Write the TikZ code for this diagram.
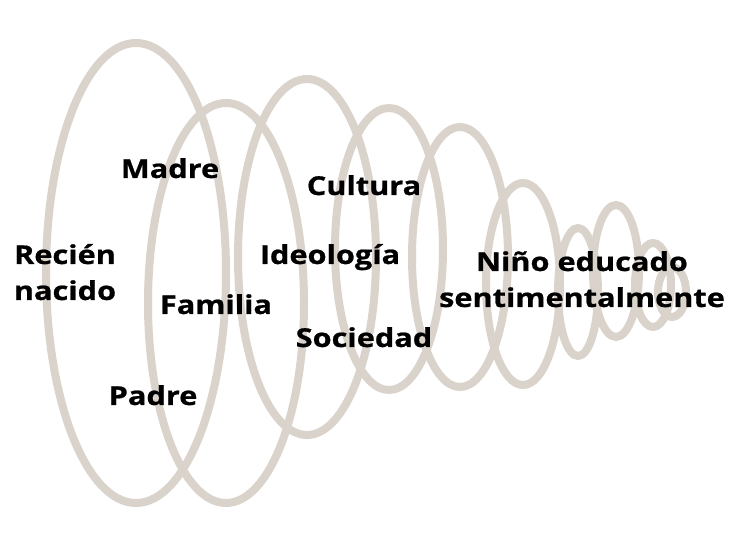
\documentclass[tikz,border=0pt]{standalone}
\usepackage{fontspec}
\newfontfamily\lblfont{Open Sans}[FakeStretch=1.18,BoldFeatures={FakeBold=0.8}]
\definecolor{ringcol}{RGB}{218,211,203}
\begin{document}
\begin{tikzpicture}[x=1pt,y=-1pt,
  ring/.style={draw=ringcol, line width=8pt},
  lbl/.style={inner sep=0pt, anchor=base, align=center,
    font=\lblfont\bfseries\fontsize{26}{36}\selectfont, text=black}]
\useasboundingbox (0,0) rectangle (732,537);
\draw[ring] (136,273) ellipse [x radius=90pt, y radius=230pt];
\draw[ring] (226,303) ellipse [x radius=78pt, y radius=200pt];
\draw[ring] (307,257) ellipse [x radius=69pt, y radius=178pt];
\draw[ring] (389,249) ellipse [x radius=54pt, y radius=141pt];
\draw[ring] (460,257) ellipse [x radius=48pt, y radius=130pt];
\draw[ring] (523,284) ellipse [x radius=37pt, y radius=101pt];
\draw[ring] (578,292) ellipse [x radius=20pt, y radius=64pt];
\draw[ring] (616,271) ellipse [x radius=23pt, y radius=66pt];
\draw[ring] (653,285) ellipse [x radius=18pt, y radius=42pt];
\draw[ring] (672,292) ellipse [x radius=14pt, y radius=25pt];
\node[lbl] (recien) at (65,300) {Recién\\nacido};
\node[lbl] (madre) at (170,178) {Madre};
\node[lbl] (familia) at (216,314) {Familia};
\node[lbl] (padre) at (153,405) {Padre};
\node[lbl] (cultura) at (364,195) {Cultura};
\node[lbl] (ideologia) at (330,264) {Ideología};
\node[lbl] (sociedad) at (364,347) {Sociedad};
\node[lbl] (nino) at (582,307) {Niño educado\\sentimentalmente};
\end{tikzpicture}
\end{document}
